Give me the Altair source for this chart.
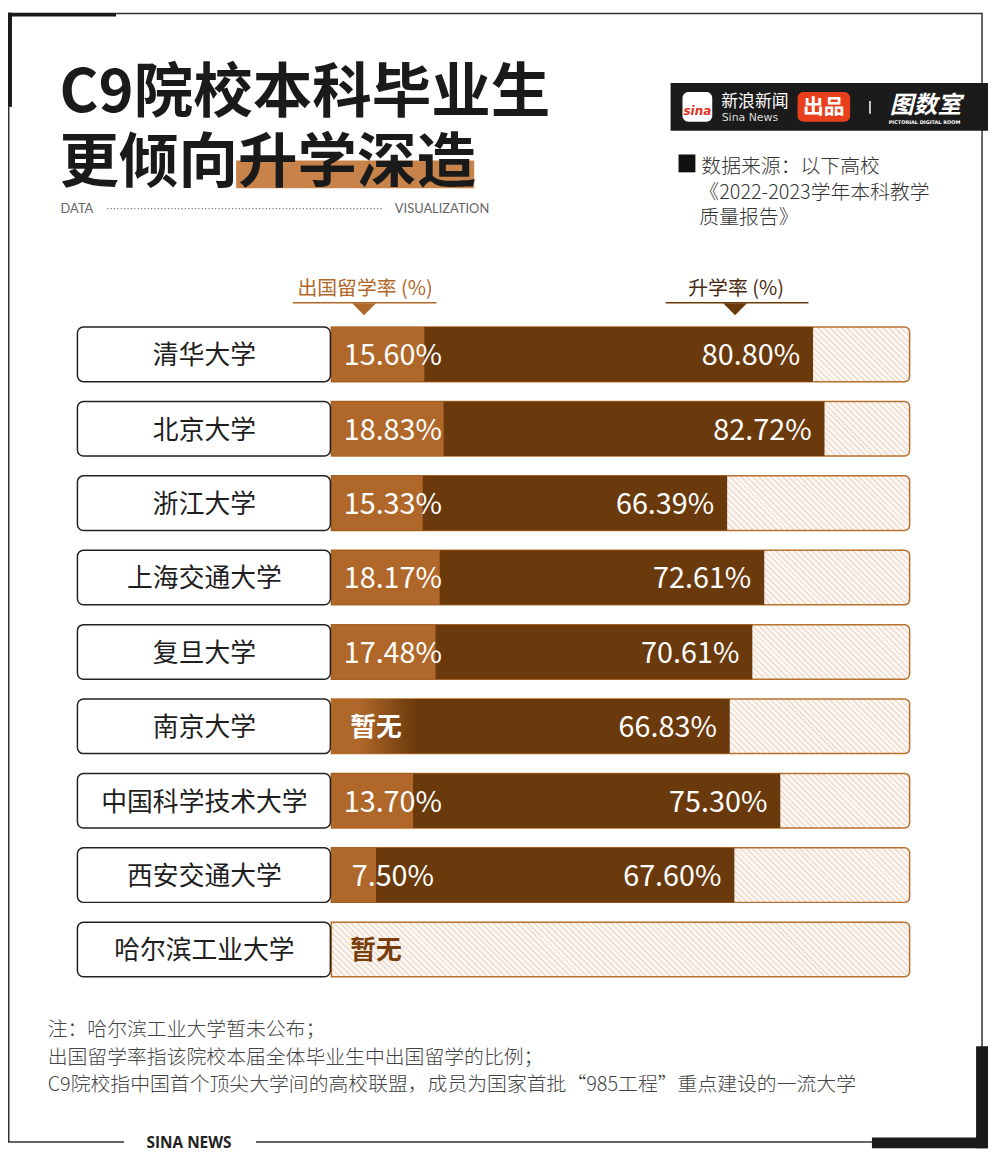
import altair as alt
import pandas as pd

# ---------------- data ----------------
universities = ["清华大学", "北京大学", "浙江大学", "上海交通大学", "复旦大学",
                "南京大学", "中国科学技术大学", "西安交通大学", "哈尔滨工业大学"]
abroad_rate = [15.60, 18.83, 15.33, 18.17, 17.48, None, 13.70, 7.50, None]
advance_rate = [80.80, 82.72, 66.39, 72.61, 70.61, 66.83, 75.30, 67.60, None]

title_1 = "C9院校本科毕业生"
title_2 = "更倾向升学深造"
legend_abroad = "出国留学率 (%)"
legend_adv = "升学率 (%)"
source_lines = ["数据来源：以下高校", "《2022-2023学年本科教学", "质量报告》"]
notes = ["注：哈尔滨工业大学暂未公布；",
         "出国留学率指该院校本届全体毕业生中出国留学的比例；",
         "C9院校指中国首个顶尖大学间的高校联盟，成员为国家首批“985工程”重点建设的一流大学"]
missing_label = "暂无"

X_MAX = 97
FONT = "Noto Sans CJK SC"
W, H = 988, 1147

C_LIGHT = "#b0682a"
C_DARK = "#6b3a0c"
C_TRACK = "#b8712f"

df = pd.DataFrame({"uni": universities, "abroad": abroad_rate, "adv": advance_rate})
df["idx"] = list(range(len(df)))

one = pd.DataFrame({"k": [0]})

X_SCALE = alt.Scale(domain=[0, X_MAX], range=[326, 909], nice=False, zero=False)
Y_SCALE = alt.Scale(domain=[0, 8], range=[344.5, 944.5], nice=False, zero=False)
HALF = 27.5 / 75

# diagonal hatch as a hard-stop gradient
stops = []
p = 0.0092
t = 0.0
k = 0
while t < 1.0 and k < 400:
    a = round(t, 5)
    b = round(min(t + p / 2, 1.0), 5)
    c = round(min(t + p, 1.0), 5)
    stops += [alt.GradientStop(offset=a, color="#f1e2d5"),
              alt.GradientStop(offset=b, color="#f1e2d5"),
              alt.GradientStop(offset=b, color="#fdfaf7"),
              alt.GradientStop(offset=c, color="#fdfaf7")]
    t += p
    k += 1
STRIPES = alt.LinearGradient(gradient="linear", stops=stops,
                             x1=-0.05, y1=0.5519, x2=1.05, y2=0.4481)

NJ_GRAD = alt.LinearGradient(gradient="linear",
                             stops=[alt.GradientStop(offset=0, color=C_LIGHT),
                                    alt.GradientStop(offset=0.07, color=C_LIGHT),
                                    alt.GradientStop(offset=0.21, color=C_DARK),
                                    alt.GradientStop(offset=1, color=C_DARK)],
                             x1=0, y1=0, x2=1, y2=0)


def txt(s, x, y, size, color="#222", weight="normal", align="left",
        baseline="middle", font=FONT, style="normal"):
    return alt.Chart(one).mark_text(
        text=s, fontSize=size, color=color, fontWeight=weight, align=align,
        baseline=baseline, font=font, fontStyle=style
    ).encode(x=alt.value(x), y=alt.value(y))


def box(x1, x2, y1, y2, color, radius=0, **kw):
    return alt.Chart(one).mark_rect(fill=color, cornerRadius=radius, **kw).encode(
        x=alt.value(x1), x2=alt.value(x2), y=alt.value(y1), y2=alt.value(y2))


def rule(x1, x2, y1, y2, color="#333", width=1.5, dash=None):
    kw = {}
    if dash:
        kw["strokeDash"] = dash
    return alt.Chart(one).mark_rule(color=color, strokeWidth=width, **kw).encode(
        x=alt.value(x1), x2=alt.value(x2), y=alt.value(y1), y2=alt.value(y2))


layers = []

# ---------------- frame ----------------
layers += [
    rule(109, 982, 0.75, 0.75, "#333", 1.5),
    rule(982, 982, 0, 1094, "#333", 1.5),
    rule(0.75, 0.75, 95, 1138.5, "#333", 1.5),
    rule(0, 117, 1138.5, 1138.5, "#333", 1.5),
    rule(250, 871, 1138.5, 1138.5, "#333", 1.5),
    box(0, 109, 0, 4, "#1a1a1a"),
    box(0, 4, 0, 95, "#1a1a1a"),
    box(976, 988, 1042, 1145, "#1a1a1a"),
    box(871, 988, 1134, 1145, "#1a1a1a"),
    txt("SINA  NEWS", 182.5, 1140, 15.5, "#222", "bold", "center", font="Open Sans"),
]

# ---------------- title ----------------
layers += [
    box(230, 470, 149, 177, "#c8834a"),
    txt(title_1, 52, 100, 60, "#1a1a1a", "bold", baseline="alphabetic"),
    txt(title_2, 52, 171, 60, "#1a1a1a", "bold", baseline="alphabetic"),
    txt("DATA", 53, 197.8, 13, "#666", "normal", font="Lato"),
    rule(100, 378, 197.5, 197.5, "#777", 1.2, [1.2, 2.2]),
    txt("VISUALIZATION", 390, 197.8, 13, "#666", "normal", font="Lato"),
]

# ---------------- logo ----------------
layers += [
    box(668, 988, 71, 119, "#1b1b1b"),
    box(680, 710, 80, 110, "#ffffff", 6),
    txt("sina", 695, 99, 12, "#e0301e", "bold", "center", font="DejaVu Sans", style="italic"),
    txt("新浪新闻", 719, 90.5, 17, "#ffffff"),
    txt("Sina News", 719.5, 106.5, 11, "#dddddd", font="DejaVu Sans"),
    box(796, 849, 80, 110, "#e8401c", 6),
    txt("出品", 822.5, 96.5, 21, "#ffffff", "bold", "center"),
    rule(869, 869, 89, 102, "#ffffff", 1.5),
    txt("图数室", 889, 94, 24, "#ffffff", "bold", style="italic"),
    txt("PICTORIAL DIGITAL ROOM", 924, 110, 5, "#ffffff", "bold", "center", font="DejaVu Sans"),
]

# ---------------- source ----------------
layers += [box(676, 693, 143, 161, "#111111")]
for i, (s, yy) in enumerate(zip(source_lines, [155.6, 181.6, 206.6])):
    layers.append(txt(s, 699 if i == 0 else 697, yy, 20, "#333", 300))

# ---------------- legend ----------------
tri = "M-1,0L1,0L0,1Z"
layers += [
    txt(legend_abroad, 360, 278.6, 20, C_LIGHT, align="center"),
    rule(287, 432, 292.5, 292.5, C_LIGHT, 1.5),
    alt.Chart(one).mark_point(shape=tri, size=576, filled=True, color=C_LIGHT,
                              opacity=1, strokeWidth=0).encode(x=alt.value(359), y=alt.value(293)),
    txt(legend_adv, 734, 278.6, 20, "#4a2a10", align="center"),
    rule(663, 807, 292.5, 292.5, C_DARK, 1.5),
    alt.Chart(one).mark_point(shape=tri, size=576, filled=True, color=C_DARK,
                              opacity=1, strokeWidth=0).encode(x=alt.value(733), y=alt.value(293)),
]

# ---------------- bars ----------------
base = alt.Chart(df).transform_calculate(
    top=f"datum.idx - {HALF}", bot=f"datum.idx + {HALF}", zero="0", full=str(X_MAX))

Xz = alt.X("zero:Q", scale=X_SCALE, axis=None)
Yt = alt.Y("top:Q", scale=Y_SCALE, axis=None)

track = base.mark_rect(fill=STRIPES, stroke=C_TRACK, strokeWidth=1.5,
                       cornerRadiusTopRight=5, cornerRadiusBottomRight=5).encode(
    x=Xz, x2="full:Q", y=Yt, y2="bot:Q")

dark = base.transform_filter("isValid(datum.abroad) && isValid(datum.adv)").mark_rect(
    fill=C_DARK).encode(x=Xz, x2="adv:Q", y=Yt, y2="bot:Q")

nj = base.transform_filter("!isValid(datum.abroad) && isValid(datum.adv)").mark_rect(
    fill=NJ_GRAD).encode(x=Xz, x2="adv:Q", y=Yt, y2="bot:Q")

light = base.transform_filter("isValid(datum.abroad)").mark_rect(
    fill=C_LIGHT).encode(x=Xz, x2="abroad:Q", y=Yt, y2="bot:Q")

label_box = base.mark_rect(fill="white", stroke="#222", strokeWidth=1.5, cornerRadius=6).encode(
    x=alt.value(70), x2=alt.value(325), y=Yt, y2="bot:Q")

label_txt = base.mark_text(font=FONT, fontSize=26, color="#1e1e1e", align="center",
                           baseline="middle", dy=2).encode(
    x=alt.value(198), y=alt.Y("idx:Q", scale=Y_SCALE, axis=None), text="uni:N")

abroad_txt = base.transform_filter("isValid(datum.abroad)").transform_calculate(
    lbl="format(datum.abroad, '.2f') + '%'").mark_text(
    font=FONT, fontSize=29, color="white", align="center", baseline="middle", dy=2).encode(
    x=alt.value(388), y=alt.Y("idx:Q", scale=Y_SCALE, axis=None), text="lbl:N")

adv_txt = base.transform_filter("isValid(datum.adv)").transform_calculate(
    lbl="format(datum.adv, '.2f') + '%'").mark_text(
    font=FONT, fontSize=29, color="white", align="right", baseline="middle", dx=-13, dy=2).encode(
    x=alt.X("adv:Q", scale=X_SCALE, axis=None), y=alt.Y("idx:Q", scale=Y_SCALE, axis=None),
    text="lbl:N")

none_txt = base.transform_filter("!isValid(datum.abroad)").mark_text(
    text=missing_label, font=FONT, fontSize=26, fontWeight="bold", align="center",
    baseline="middle", dy=2).encode(
    x=alt.value(371), y=alt.Y("idx:Q", scale=Y_SCALE, axis=None),
    color=alt.condition("isValid(datum.adv)", alt.value("white"), alt.value("#7a3d0c")))

layers += [track, dark, nj, light, label_box, label_txt, abroad_txt, adv_txt, none_txt]

# ---------------- notes ----------------
for s, yy in zip(notes, [1025.6, 1053.6, 1081.6]):
    layers.append(txt(s, 40, yy, 20, "#444", 300))

chart = alt.layer(*layers).properties(
    width=W, height=H, autosize=alt.AutoSizeParams(type="none"), padding=0,
    background="white"
).configure_view(stroke=None)

chart.save("out.html", embed_options={"renderer": "svg", "actions": False})
